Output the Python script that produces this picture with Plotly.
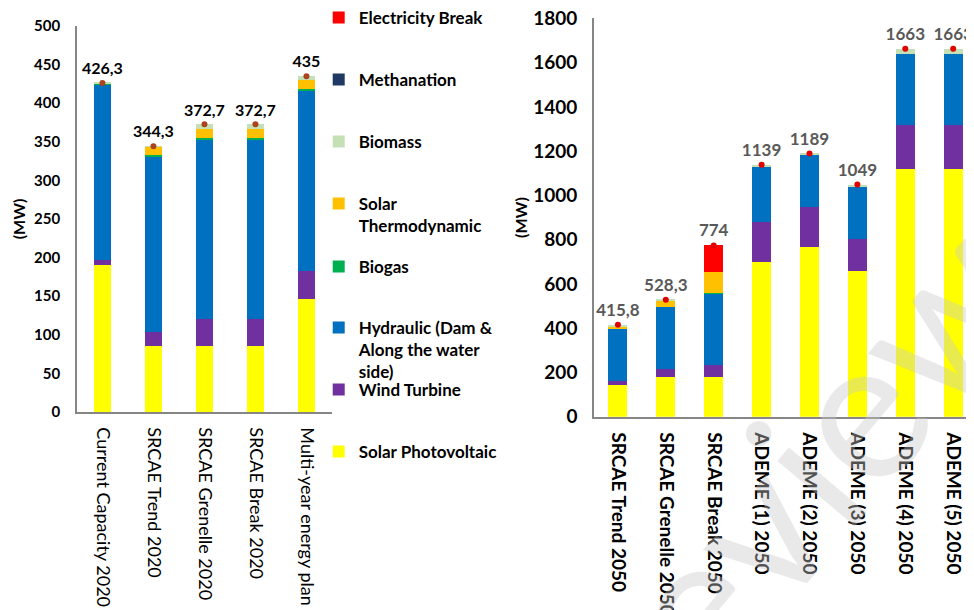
import plotly.graph_objects as go

# left panel: 2020 scenarios
cats_2020 = ["Current Capacity 2020", "SRCAE Trend 2020", "SRCAE Grenelle 2020",
             "SRCAE Break 2020", "Multi-year energy plan"]
totals_2020 = [426.3, 344.3, 372.7, 372.7, 435]
labels_2020 = ["426,3", "344,3", "372,7", "372,7", "435"]

# right panel: 2050 scenarios
cats_2050 = ["SRCAE Trend 2050", "SRCAE Grenelle 2050", "SRCAE Break 2050",
             "ADEME (1) 2050", "ADEME (2) 2050", "ADEME (3) 2050",
             "ADEME (4) 2050", "ADEME (5) 2050"]
totals_2050 = [415.8, 528.3, 774, 1139, 1189, 1049, 1663, 1663]
labels_2050 = ["415,8", "528,3", "774", "1139", "1189", "1049", "1663", "1663"]

# stacked series, bottom to top
series = ["Solar Photovoltaic", "Wind Turbine", "Hydraulic (Dam &<br>Along the water<br>side)",
          "Biogas", "Solar<br>Thermodynamic", "Biomass", "Methanation", "Electricity Break"]
colors = ["#FFFF00", "#7030A0", "#0070C0", "#00B050", "#FFC000", "#C5E0B4", "#1F3864", "#FF0000"]

pv_2020 = [191, 85, 85, 85, 146]
wind_2020 = [6, 18, 35.5, 35.5, 36]
hydro_2020 = [227.5, 228, 233, 233, 234]
biogas_2020 = [1.3, 1.5, 2, 2, 2.5]
st_2020 = [0, 11.5, 11, 11, 11.5]
biomass_2020 = [0.5, 0.3, 6.2, 6.2, 5]
meth_2020 = [0, 0, 0, 0, 0]
elec_2020 = [0, 0, 0, 0, 0]

pv_2050 = [143, 181, 181, 700, 768, 660, 1119, 1119]
wind_2050 = [18, 34, 52, 181, 181, 143, 198, 198]
hydro_2050 = [235, 280, 322, 249, 233, 236, 320, 320]
biogas_2050 = [2, 2, 2, 0, 0, 0, 0, 0]
st_2050 = [9, 25, 98, 0, 0, 0, 0, 0]
biomass_2050 = [8.8, 6.3, 0, 9, 7, 10, 26, 26]
meth_2050 = [0, 0, 0, 0, 0, 0, 0, 0]
elec_2050 = [0, 0, 119, 0, 0, 0, 0, 0]

data_2020 = [pv_2020, wind_2020, hydro_2020, biogas_2020, st_2020, biomass_2020, meth_2020, elec_2020]
data_2050 = [pv_2050, wind_2050, hydro_2050, biogas_2050, st_2050, biomass_2050, meth_2050, elec_2050]

# first-line position (px from top) of each legend entry, same order as series
legend_rows = [452, 390, 328, 267, 204, 142, 80, 18]

font = "Lato, 'Open Sans', sans-serif"
fig = go.Figure()

for i, name in enumerate(series):
    leg = "legend" if i == 0 else "legend%d" % (i + 1)
    fig.add_trace(go.Bar(x=cats_2020, y=data_2020[i], name=name, marker_color=colors[i],
                         marker_line_width=0, width=0.33, legend=leg, legendgroup=str(i),
                         xaxis="x", yaxis="y"))
    fig.add_trace(go.Bar(x=cats_2050, y=data_2050[i], name=name, marker_color=colors[i],
                         marker_line_width=0, width=0.4, legendgroup=str(i), showlegend=False,
                         xaxis="x2", yaxis="y2"))

# totals
fig.add_trace(go.Scatter(x=cats_2020, y=totals_2020, text=labels_2020, mode="markers+text",
                         textposition="top center", marker=dict(color="#A9441E", size=6),
                         textfont=dict(family=font, size=16, color="black", weight="bold"),
                         showlegend=False, xaxis="x", yaxis="y"))
fig.add_trace(go.Scatter(x=cats_2050, y=totals_2050, text=labels_2050, mode="markers+text",
                         textposition="top center", marker=dict(color="#E00000", size=6),
                         textfont=dict(family=font, size=17, color="#595959", weight="bold"),
                         showlegend=False, xaxis="x2", yaxis="y2"))

axis_common = dict(showline=True, linecolor="#868686", linewidth=1.5, showgrid=False,
                   zeroline=False, ticks="", automargin=False, ticklabeloverflow="allow")
layout = dict(
    width=974, height=610, barmode="stack",
    plot_bgcolor="white", paper_bgcolor="white",
    margin=dict(l=0, r=0, t=0, b=0, autoexpand=False),
    font=dict(family=font, color="black"),
    xaxis=dict(domain=[0.0708, 0.3326], tickangle=90, anchor="y", ticklabelstandoff=10,
               tickfont=dict(size=18), **axis_common),
    yaxis=dict(domain=[0.3377, 0.9705], range=[0, 500], dtick=50, anchor="x",
               ticklabelstandoff=12, tickfont=dict(size=15, weight="bold"),
               title=dict(text="(MW)", font=dict(size=16, weight="bold"), standoff=4),
               **axis_common),
    xaxis2=dict(domain=[0.6016, 0.995], tickangle=90, anchor="y2", ticklabelstandoff=10,
                tickfont=dict(size=19, weight="bold"), **axis_common),
    yaxis2=dict(domain=[0.33, 0.983], range=[0, 1800], dtick=200, anchor="x2",
                ticklabelstandoff=11, tickfont=dict(size=19, weight="bold"),
                title=dict(text="(MW)", font=dict(size=16, weight="bold"), standoff=2),
                **axis_common),
)
for i, row in enumerate(legend_rows):
    key = "legend" if i == 0 else "legend%d" % (i + 1)
    layout[key] = dict(x=0.319, y=1 - (row - 26) / 610, xanchor="left", yanchor="top",
                       valign="top", font=dict(size=17, weight="bold"),
                       itemwidth=30, bgcolor="rgba(0,0,0,0)")
fig.update_layout(**layout)

fig.add_annotation(text="Preview", xref="paper", yref="paper", x=0.772, y=0.16,
                   xanchor="center", yanchor="middle", showarrow=False, textangle=-50,
                   font=dict(size=200, family=font, color="rgba(200,200,200,0.4)"))

fig.write_html("out.html")
